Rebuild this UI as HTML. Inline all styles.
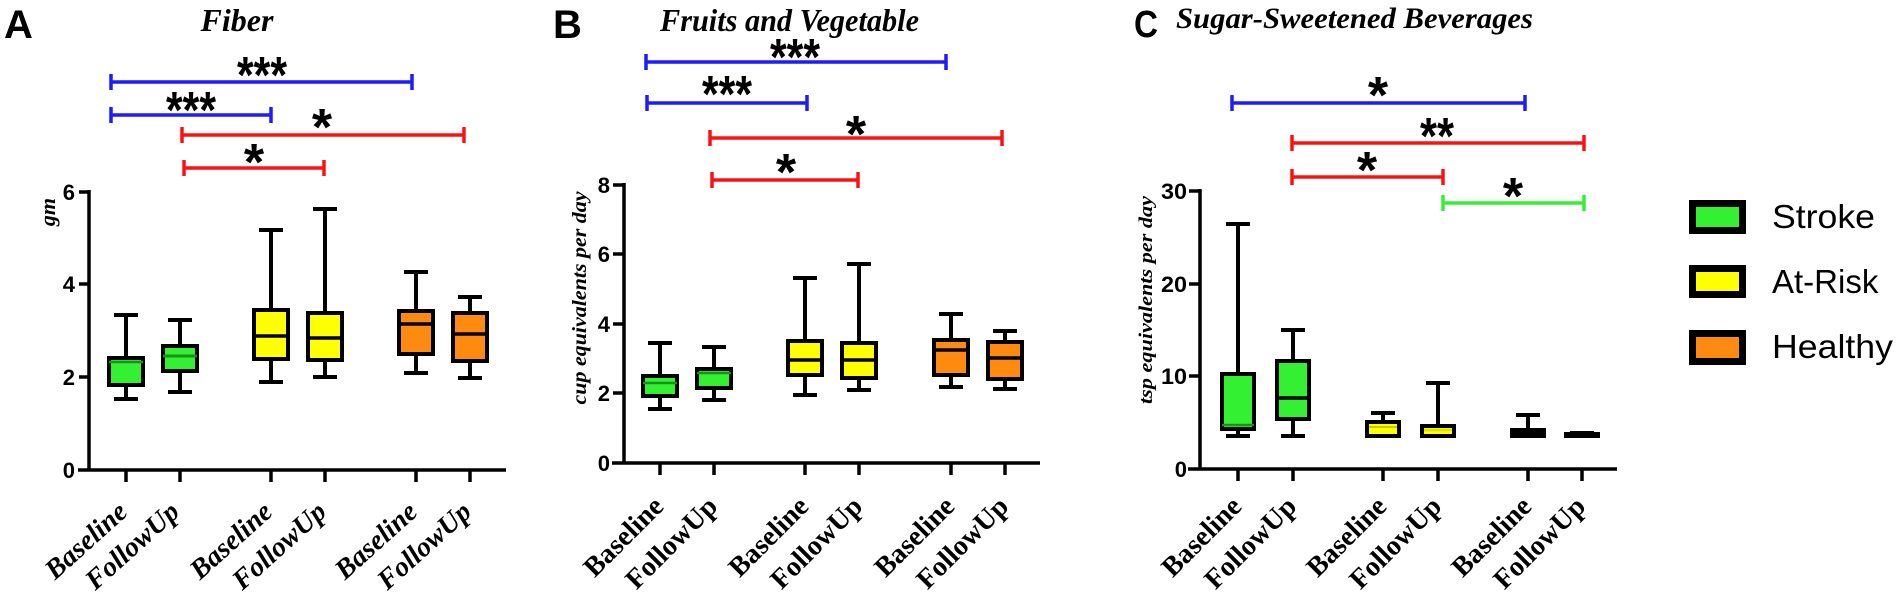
<!DOCTYPE html>
<html><head><meta charset="utf-8"><style>
html,body{margin:0;padding:0;background:#fff;}
svg{display:block;}
.tl{font-family:"Liberation Sans",sans-serif;font-weight:bold;font-size:22px;}
.st{font-family:"Liberation Sans",sans-serif;font-weight:bold;font-size:52px;text-anchor:middle;}
.xl{font-family:"Liberation Serif",serif;font-weight:bold;font-size:28px;text-anchor:end;}
.xi{font-style:italic;}
.yl{font-family:"Liberation Serif",serif;font-weight:bold;font-style:italic;text-anchor:middle;}
</style></head><body>
<svg width="1900" height="603" viewBox="0 0 1900 603" xmlns="http://www.w3.org/2000/svg">
<rect width="1900" height="603" fill="#fff"/>
<text x="4" y="38" font-family="Liberation Sans" font-weight="bold" font-size="40">A</text>
<text x="553" y="38" font-family="Liberation Sans" font-weight="bold" font-size="40">B</text>
<text x="1134" y="37" font-family="Liberation Sans" font-weight="bold" font-size="38" textLength="24" lengthAdjust="spacingAndGlyphs">C</text>
<text x="237" y="31" font-family="Liberation Serif" font-weight="bold" font-style="italic" font-size="32" text-anchor="middle">Fiber</text>
<text x="660" y="31" font-family="Liberation Serif" font-weight="bold" font-style="italic" font-size="32" textLength="259" lengthAdjust="spacingAndGlyphs">Fruits and Vegetable</text>
<text x="1176" y="28" font-family="Liberation Serif" font-weight="bold" font-style="italic" font-size="30" textLength="357" lengthAdjust="spacingAndGlyphs">Sugar-Sweetened Beverages</text>

<g fill="none" stroke-width="3.5">
<g stroke="#1c1cff"><path d="M111 82H412M111 74V90M412 74V90"/><path d="M111 115H271M111 107V123M271 107V123"/></g>
<g stroke="#ff1010"><path d="M182 135H464M182 127V143M464 127V143"/><path d="M184 168H324M184 160V176M324 160V176"/></g>
<g stroke="#1c1cff"><path d="M646 62H946M646 54V70M946 54V70"/><path d="M647 103H807M647 95V111M807 95V111"/></g>
<g stroke="#ff1010"><path d="M710 138H1002M710 130V146M1002 130V146"/><path d="M712 180H858M712 172V188M858 172V188"/></g>
<g stroke="#1c1cff"><path d="M1232 103H1525M1232 95V111M1525 95V111"/></g>
<g stroke="#ff1010"><path d="M1292 143H1584M1292 135V151M1584 135V151"/><path d="M1292 177H1443M1292 169V185M1443 169V185"/></g>
<g stroke="#33f033"><path d="M1443 203H1584M1443 195V211M1584 195V211"/></g>
</g>
<text class="st" x="262" y="93" textLength="50" lengthAdjust="spacingAndGlyphs">***</text>
<text class="st" x="191" y="128" textLength="50" lengthAdjust="spacingAndGlyphs">***</text>
<text class="st" x="322" y="145">*</text>
<text class="st" x="254" y="180">*</text>
<text class="st" x="795" y="75" textLength="50" lengthAdjust="spacingAndGlyphs">***</text>
<text class="st" x="727" y="112" textLength="50" lengthAdjust="spacingAndGlyphs">***</text>
<text class="st" x="856" y="152">*</text>
<text class="st" x="786" y="190">*</text>
<text class="st" x="1378" y="113">*</text>
<text class="st" x="1437" y="154" textLength="34" lengthAdjust="spacingAndGlyphs">**</text>
<text class="st" x="1367" y="188">*</text>
<text class="st" x="1513" y="214">*</text>

<g stroke="#000" stroke-width="3.5" fill="none">
<path d="M89 190V470M78 470H506M79 192H89M79 284H89M79 377H89M79 470H89"/>
<path d="M126 470V482M180 470V482M271 470V482M325 470V482M416 470V482M470 470V482"/>
<path d="M624 183V463M612 463H1040M613 185H624M613 254H624M613 324H624M613 393H624"/>
<path d="M660 463V475M714 463V475M805 463V475M859 463V475M951 463V475M1005 463V475"/>
<path d="M1200 189V469M1188 469H1617M1189 191H1200M1189 284H1200M1189 376H1200"/>
<path d="M1238 469V481M1293 469V481M1383 469V481M1438 469V481M1528 469V481M1582 469V481"/>
</g>
<g class="tl" text-anchor="end">
<text x="75" y="200">6</text><text x="75" y="292">4</text><text x="75" y="385">2</text><text x="75" y="478">0</text>
<text x="610" y="193">8</text><text x="610" y="262">6</text><text x="610" y="332">4</text><text x="610" y="401">2</text><text x="610" y="471">0</text>
<text x="1187" y="199" textLength="26" lengthAdjust="spacingAndGlyphs">30</text>
<text x="1187" y="292" textLength="26" lengthAdjust="spacingAndGlyphs">20</text>
<text x="1187" y="384" textLength="26" lengthAdjust="spacingAndGlyphs">10</text>
<text x="1187" y="477">0</text>
</g>
<text class="yl" font-size="22" transform="translate(55,212) rotate(-90)">gm</text>
<text class="yl" font-size="20" transform="translate(586,298) rotate(-90)" textLength="213" lengthAdjust="spacingAndGlyphs">cup equivalents per day</text>
<text class="yl" font-size="19" transform="translate(1152,300) rotate(-90)" textLength="208" lengthAdjust="spacingAndGlyphs">tsp equivalents per day</text>

<g stroke="#000" stroke-width="4">
<g><path d="M126 315V358M126 385V399M114 315H138M114 399H138"/><rect x="109" y="358" width="34" height="27" fill="#33f033"/><path d="M109 362H143" stroke="#1a8f1a" stroke-width="2.5"/></g>
<g><path d="M180 320V346M180 371V392M168 320H192M168 392H192"/><rect x="163" y="346" width="34" height="25" fill="#33f033"/><path d="M163 356H197" stroke="#1a8f1a" stroke-width="3"/></g>
<g><path d="M271 230V310M271 359V382M259 230H283M259 382H283"/><rect x="254" y="310" width="34" height="49" fill="#ffff00"/><path d="M254 336H288" stroke-width="3.5"/></g>
<g><path d="M325 209V313M325 360V377M313 209H337M313 377H337"/><rect x="308" y="313" width="34" height="47" fill="#ffff00"/><path d="M308 338H342" stroke-width="3.5"/></g>
<g><path d="M416 272V311M416 354V373M404 272H428M404 373H428"/><rect x="399" y="311" width="34" height="43" fill="#ff8a10"/><path d="M399 324H433" stroke-width="3.5"/></g>
<g><path d="M470 297V313M470 361V378M458 297H482M458 378H482"/><rect x="453" y="313" width="34" height="48" fill="#ff8a10"/><path d="M453 334H487" stroke-width="3.5"/></g>
<g><path d="M660 343V376M660 396V409M648 343H672M648 409H672"/><rect x="643" y="376" width="34" height="20" fill="#33f033"/><path d="M643 383H677" stroke="#1a8f1a" stroke-width="2.5"/></g>
<g><path d="M714 347V369M714 388V400M702 347H726M702 400H726"/><rect x="697" y="369" width="34" height="19" fill="#33f033"/><path d="M697 373H731" stroke="#1a8f1a" stroke-width="2.5"/></g>
<g><path d="M805 278V341M805 375V395M793 278H817M793 395H817"/><rect x="788" y="341" width="34" height="34" fill="#ffff00"/><path d="M788 360H822" stroke-width="3.5"/></g>
<g><path d="M859 264V343M859 378V390M847 264H871M847 390H871"/><rect x="842" y="343" width="34" height="35" fill="#ffff00"/><path d="M842 360H876" stroke-width="3.5"/></g>
<g><path d="M951 314V340M951 375V387M939 314H963M939 387H963"/><rect x="934" y="340" width="34" height="35" fill="#ff8a10"/><path d="M934 350H968" stroke-width="3.5"/></g>
<g><path d="M1005 331V342M1005 379V389M993 331H1017M993 389H1017"/><rect x="988" y="342" width="34" height="37" fill="#ff8a10"/><path d="M988 358H1022" stroke-width="3.5"/></g>
<g><path d="M1238 224V374M1238 429V436M1226 224H1250M1226 436H1250"/><rect x="1222" y="374" width="32" height="55" fill="#33f033"/><path d="M1222 425H1254" stroke="#1a8f1a" stroke-width="2.5"/></g>
<g><path d="M1293 330V361M1293 419V436M1281 330H1305M1281 436H1305"/><rect x="1277" y="361" width="32" height="58" fill="#33f033"/><path d="M1277 398H1309" stroke-width="3.5"/></g>
<g><path d="M1383 413V422M1371 413H1395"/><rect x="1367" y="422" width="32" height="14" fill="#ffff00"/><path d="M1369 427H1397" stroke="#c8c800" stroke-width="2"/></g>
<g><path d="M1438 383V426M1426 383H1450"/><rect x="1422" y="426" width="32" height="10" fill="#ffff00"/><path d="M1424 430H1452" stroke="#e0e000" stroke-width="2.5"/></g>
<g><path d="M1528 415V430M1516 415H1540"/><rect x="1512" y="430" width="32" height="6" fill="#000"/></g>
<g><path d="M1582 433V434M1570 433H1594"/><rect x="1566" y="434" width="32" height="2" fill="#000"/></g>
</g>

<g class="xl xi">
<text transform="translate(129,514) rotate(-42)">Baseline</text>
<text transform="translate(181,514) rotate(-42)">FollowUp</text>
<text transform="translate(274,514) rotate(-42)">Baseline</text>
<text transform="translate(328,514) rotate(-42)">FollowUp</text>
<text transform="translate(419,514) rotate(-42)">Baseline</text>
<text transform="translate(473,514) rotate(-42)">FollowUp</text>
</g>
<g class="xl">
<text transform="translate(665,508) rotate(-45)">Baseline</text>
<text transform="translate(719,508) rotate(-45)">FollowUp</text>
<text transform="translate(810,508) rotate(-45)">Baseline</text>
<text transform="translate(864,508) rotate(-45)">FollowUp</text>
<text transform="translate(956,508) rotate(-45)">Baseline</text>
<text transform="translate(1010,508) rotate(-45)">FollowUp</text>
<text transform="translate(1243,508) rotate(-45)">Baseline</text>
<text transform="translate(1298,508) rotate(-45)">FollowUp</text>
<text transform="translate(1388,508) rotate(-45)">Baseline</text>
<text transform="translate(1443,508) rotate(-45)">FollowUp</text>
<text transform="translate(1533,508) rotate(-45)">Baseline</text>
<text transform="translate(1587,508) rotate(-45)">FollowUp</text>
</g>

<g stroke="#000" stroke-width="7">
<rect x="1692.5" y="203.5" width="50" height="27" fill="#33f033"/>
<rect x="1692.5" y="268.5" width="50" height="26" fill="#ffff00"/>
<rect x="1692.5" y="333.5" width="50" height="28" fill="#ff8a10"/>
</g>
<g font-family="Liberation Sans" font-size="33">
<text x="1772" y="228" textLength="103" lengthAdjust="spacingAndGlyphs">Stroke</text>
<text x="1772" y="293">At-Risk</text>
<text x="1772" y="358" textLength="121" lengthAdjust="spacingAndGlyphs">Healthy</text>
</g>
</svg>
</body></html>
